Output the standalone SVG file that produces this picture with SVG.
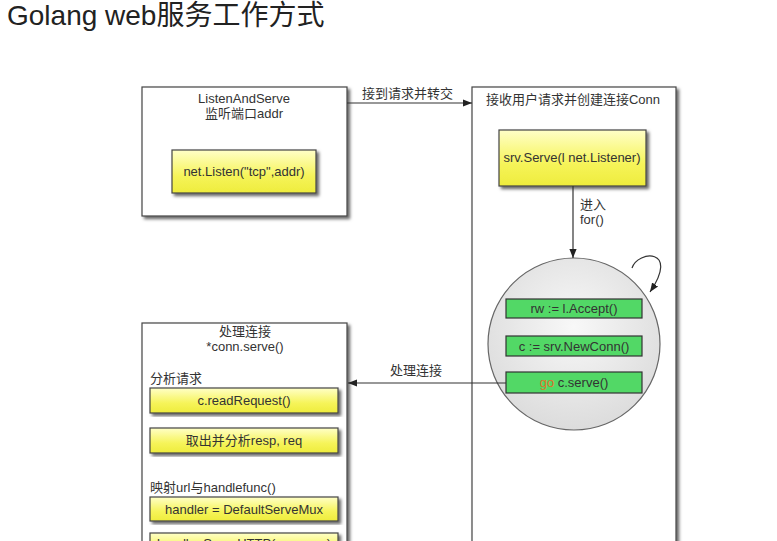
<svg xmlns="http://www.w3.org/2000/svg" width="777" height="541" viewBox="0 0 777 541">
<defs>
<style>
.t{font-family:"Liberation Sans","Noto Sans CJK SC",Arial,sans-serif;fill:#333;font-size:13px}
.c{text-anchor:middle}
.box{fill:#fff;stroke:#444;stroke-width:1.2}
.yel{fill:url(#yg);stroke:#444;stroke-width:1.2}
.grn{fill:#52d866;stroke:#333;stroke-width:1.2}
.ln{fill:none;stroke:#333;stroke-width:1.2}
</style>
<linearGradient id="yg" x1="0" y1="0" x2="0" y2="1">
<stop offset="0" stop-color="#ffffc8"/>
<stop offset="0.6" stop-color="#f6f45a"/>
<stop offset="1" stop-color="#eeec3c"/>
</linearGradient>
<radialGradient id="cg" cx="0.5" cy="0.4" r="0.6">
<stop offset="0" stop-color="#f8f8f8"/>
<stop offset="1" stop-color="#dcdcdc"/>
</radialGradient>
<filter id="sh" x="-10%" y="-10%" width="125%" height="125%">
<feDropShadow dx="2.5" dy="2.5" stdDeviation="1.5" flood-color="#000" flood-opacity="0.6"/>
</filter>
<marker id="ah" viewBox="0 0 10 10" refX="10" refY="5" markerWidth="9" markerHeight="9" markerUnits="userSpaceOnUse" orient="auto">
<path d="M0,1 L10,5 L0,9 z" fill="#222"/>
</marker>
</defs>
<rect width="777" height="541" fill="#fff"/>
<text x="7" y="25" style="font-family:'Liberation Sans','Noto Sans CJK SC',Arial,sans-serif;font-size:28px;fill:#222">Golang web服务工作方式</text>

<g id="listen">
<rect class="box" x="142" y="87" width="205" height="129" filter="url(#sh)"/>
<text class="t c" x="244" y="103">ListenAndServe</text>
<text class="t c" x="244" y="118">监听端口addr</text>
<rect class="yel" x="172" y="150" width="144" height="43" filter="url(#sh)"/>
<text class="t c" x="244" y="176">net.Listen("tcp",addr)</text>
</g>

<g id="accept">
<rect class="box" x="472" y="87" width="204" height="480" filter="url(#sh)"/>
<text class="t c" x="573" y="104">接收用户请求并创建连接Conn</text>
<rect class="yel" x="499" y="130" width="147" height="56" filter="url(#sh)"/>
<text class="t c" x="572" y="162">srv.Serve(l net.Listener)</text>
</g>

<g id="loop">
<circle cx="574" cy="344" r="86" fill="url(#cg)" stroke="#666" stroke-width="1.2"/>
<rect class="grn" x="506" y="299" width="136" height="19"/>
<text class="t c" x="574" y="313">rw := l.Accept()</text>
<rect class="grn" x="506" y="336" width="136" height="20"/>
<text class="t c" x="574" y="351">c := srv.NewConn()</text>
<rect class="grn" x="506" y="372" width="136" height="21"/>
<text class="t c" x="574" y="387"><tspan fill="#e0702a">go</tspan> c.serve()</text>
</g>

<g id="conn">
<rect class="box" x="142" y="323" width="205" height="240" filter="url(#sh)"/>
<text class="t c" x="245" y="336">处理连接</text>
<text class="t c" x="245" y="351">*conn.serve()</text>
<text class="t" x="150" y="383">分析请求</text>
<rect class="yel" x="150" y="388" width="188" height="25" filter="url(#sh)"/>
<text class="t c" x="244" y="405">c.readRequest()</text>
<rect class="yel" x="150" y="428" width="188" height="25" filter="url(#sh)"/>
<text class="t c" x="244" y="445">取出并分析resp, req</text>
<text class="t" x="150" y="492">映射url与handlefunc()</text>
<rect class="yel" x="150" y="497" width="188" height="24" filter="url(#sh)"/>
<text class="t c" x="244" y="514">handler = DefaultServeMux</text>
<rect class="yel" x="150" y="533" width="188" height="25" filter="url(#sh)"/>
<text class="t c" x="244" y="548">handler.ServeHTTP(resp, req)</text>
</g>

<g id="connectors">
<line class="ln" x1="347" y1="103" x2="472" y2="103" marker-end="url(#ah)"/>
<text class="t" x="362" y="98">接到请求并转交</text>
<line class="ln" x1="573" y1="186" x2="573" y2="258" marker-end="url(#ah)"/>
<text class="t" x="580" y="209">进入</text>
<text class="t" x="580" y="224">for()</text>
<path class="ln" d="M632,268 C638,250 680,248 650,292" marker-end="url(#ah)"/>
<line class="ln" x1="506" y1="383" x2="348" y2="383" marker-end="url(#ah)"/>
<text class="t" x="390" y="375">处理连接</text>
</g>
</svg>
